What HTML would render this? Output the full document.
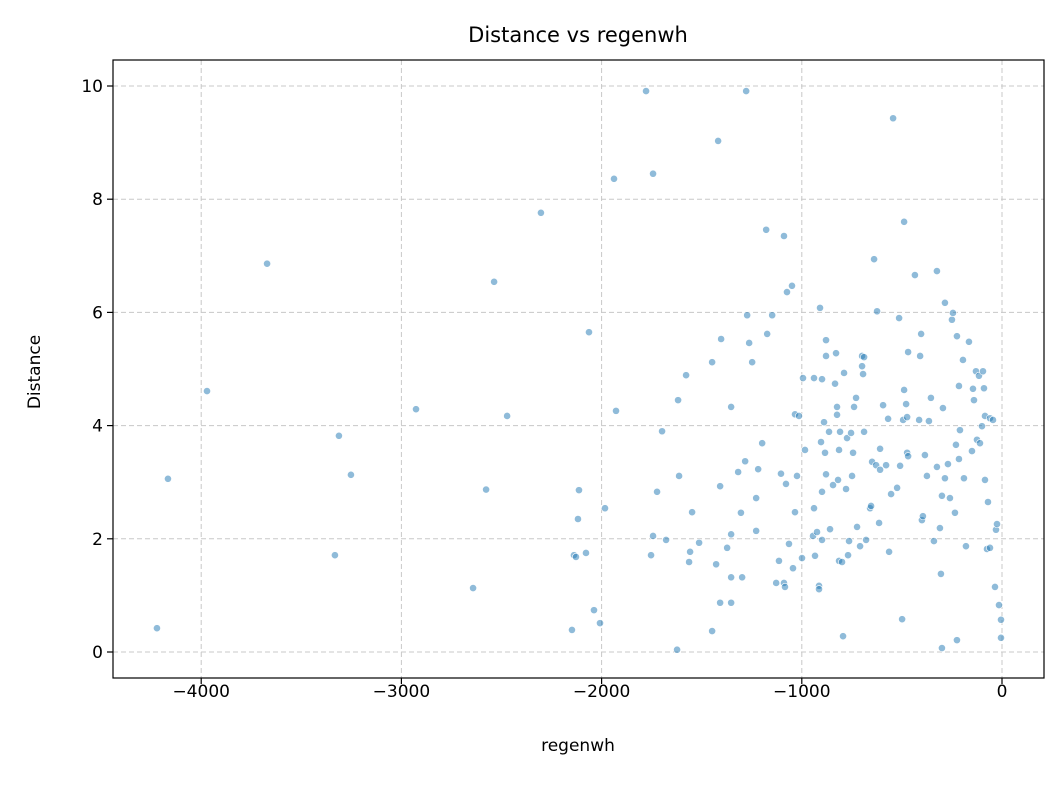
<!DOCTYPE html>
<html><head><meta charset="utf-8"><style>
body{margin:0;background:#fff;}
svg text{font-family:"DejaVu Sans","Liberation Sans",sans-serif;fill:#000;}
</style></head><body>
<svg id="chart" width="1063" height="785" xmlns="http://www.w3.org/2000/svg">
<rect width="1063" height="785" fill="#fff"/>
<g id="grid"></g>
<g id="points"></g>
<rect x="113" y="60" width="931" height="618" fill="none" stroke="#000" stroke-width="1.2"/>
<g id="ticks"></g>
<text x="578" y="42" font-size="21" text-anchor="middle">Distance vs regenwh</text>
<text x="578" y="751" font-size="17" text-anchor="middle">regenwh</text>
<text x="40" y="372" font-size="17" text-anchor="middle" transform="rotate(-90 40 372)">Distance</text>
</svg>
<script>
const xTicks=[-4000,-3000,-2000,-1000,0];
const yTicks=[0,2,4,6,8,10];
const xVals=[-4221,-4166,-3971,-3671,-3332,-3312,-3252,-2927,-2642,-2577,-2537,-2472,-2303,-2148,-2138,-2128,-2118,-2113,-2078,-2063,-2038,-2008,-1983,-1938,-1928,-1778,-1753,-1743,-1743,-1723,-1698,-1678,-1623,-1618,-1613,-1578,-1563,-1558,-1548,-1513,-1448,-1448,-1428,-1418,-1408,-1403,-1408,-1373,-1353,-1353,-1353,-1353,-1318,-1304,-1298,-1283,-1278,-1273,-1263,-1248,-1228,-1228,-1218,-1198,-1178,-1173,-1148,-1128,-1114,-1104,-1089,-1089,-1084,-1079,-1074,-1064,-1049,-1044,-1034,-1034,-1024,-1014,-999,-994,-984,-944,-939,-939,-934,-924,-914,-914,-909,-904,-899,-899,-899,-889,-884,-879,-879,-879,-864,-859,-844,-834,-829,-824,-824,-819,-814,-814,-809,-799,-794,-789,-779,-774,-769,-764,-754,-749,-744,-739,-729,-724,-709,-699,-699,-689,-694,-689,-679,-659,-654,-649,-639,-629,-624,-614,-609,-609,-594,-579,-569,-564,-554,-544,-524,-514,-509,-499,-494,-489,-489,-479,-474,-474,-469,-469,-435,-414,-409,-404,-400,-395,-385,-375,-365,-355,-340,-325,-325,-310,-305,-300,-300,-295,-285,-285,-270,-260,-250,-245,-235,-230,-225,-225,-215,-215,-210,-195,-190,-180,-165,-150,-145,-140,-130,-125,-115,-110,-100,-95,-90,-85,-85,-75,-70,-60,-60,-45,-35,-30,-25,-15,-5,-5];
const yVals=[0.42,3.06,4.61,6.86,1.71,3.82,3.13,4.29,1.13,2.87,6.54,4.17,7.76,0.39,1.71,1.68,2.35,2.86,1.75,5.65,0.74,0.51,2.54,8.36,4.26,9.91,1.71,2.05,8.45,2.83,3.9,1.98,0.04,4.45,3.11,4.89,1.59,1.77,2.47,1.93,5.12,0.37,1.55,9.03,2.93,5.53,0.87,1.84,2.08,1.32,4.33,0.87,3.18,2.46,1.32,3.37,9.91,5.95,5.46,5.12,2.72,2.14,3.23,3.69,7.46,5.62,5.95,1.22,1.61,3.15,7.35,1.22,1.15,2.97,6.36,1.91,6.47,1.48,2.47,4.2,3.11,4.17,1.66,4.84,3.57,2.05,4.84,2.54,1.7,2.12,1.17,1.11,6.08,3.71,1.98,4.82,2.83,4.06,3.52,5.51,5.23,3.14,3.89,2.17,2.95,4.74,5.28,4.33,4.19,3.04,3.57,1.61,3.89,1.59,0.28,4.93,2.88,3.78,1.71,1.96,3.87,3.11,3.52,4.33,4.49,2.21,1.87,5.05,5.23,5.21,4.91,3.89,1.98,2.54,2.58,3.36,6.94,3.3,6.02,2.28,3.22,3.59,4.36,3.3,4.12,1.77,2.79,9.43,2.9,5.9,3.29,0.58,4.1,7.6,4.63,4.38,4.15,3.52,3.46,5.3,6.66,4.1,5.23,5.62,2.33,2.4,3.48,3.11,4.08,4.49,1.96,6.73,3.27,2.19,1.38,0.07,2.76,4.31,6.17,3.07,3.32,2.72,5.87,5.99,2.46,3.66,5.58,0.21,4.7,3.41,3.92,5.16,3.07,1.87,5.48,3.55,4.65,4.45,4.96,3.75,4.88,3.69,3.99,4.96,4.66,4.17,3.04,1.82,2.65,4.13,1.84,4.1,1.15,2.16,2.26,0.83,0.57,0.25];
const NS="http://www.w3.org/2000/svg";
const L=113,R=1044,T=60,B=678;
function xs(v){return 1002+v*0.2002;}
function ys(v){return 652-v*56.6;}
const grid=document.getElementById('grid'),ticks=document.getElementById('ticks'),pts=document.getElementById('points');
function mk(tag,attrs,parent){const e=document.createElementNS(NS,tag);for(const k in attrs)e.setAttribute(k,attrs[k]);parent.appendChild(e);return e;}
xTicks.forEach(t=>{const x=xs(t);
 const g=mk('line',{x1:x,x2:x,y1:T,y2:B,stroke:'#c8c8c8','stroke-dasharray':'5,3','stroke-width':1},grid);
 
 
 mk('line',{x1:x,x2:x,y1:B,y2:B+6,stroke:'#000','stroke-width':1.2},ticks);
 const tx=mk('text',{x:x,y:B+19,'font-size':17,'text-anchor':'middle'},ticks);
 tx.textContent=(t<0?'\u2212'+(-t):t);
 
 
});
yTicks.forEach(t=>{const y=ys(t);
 const g=mk('line',{x1:L,x2:R,y1:y,y2:y,stroke:'#c8c8c8','stroke-dasharray':'5,3','stroke-width':1},grid);
 
 
 mk('line',{x1:L-6,x2:L,y1:y,y2:y,stroke:'#000','stroke-width':1.2},ticks);
 const tx=mk('text',{x:L-10,y:y+6,'font-size':17,'text-anchor':'end'},ticks);
 tx.textContent=t;
 
 
});
xVals.forEach((v,i)=>{
 const c=mk('circle',{cx:xs(v),cy:ys(yVals[i]),r:3.6,fill:'rgba(31,119,180,0.5)',stroke:'#fff','stroke-width':0.6},pts);
 
 
});
</script>
</body></html>
